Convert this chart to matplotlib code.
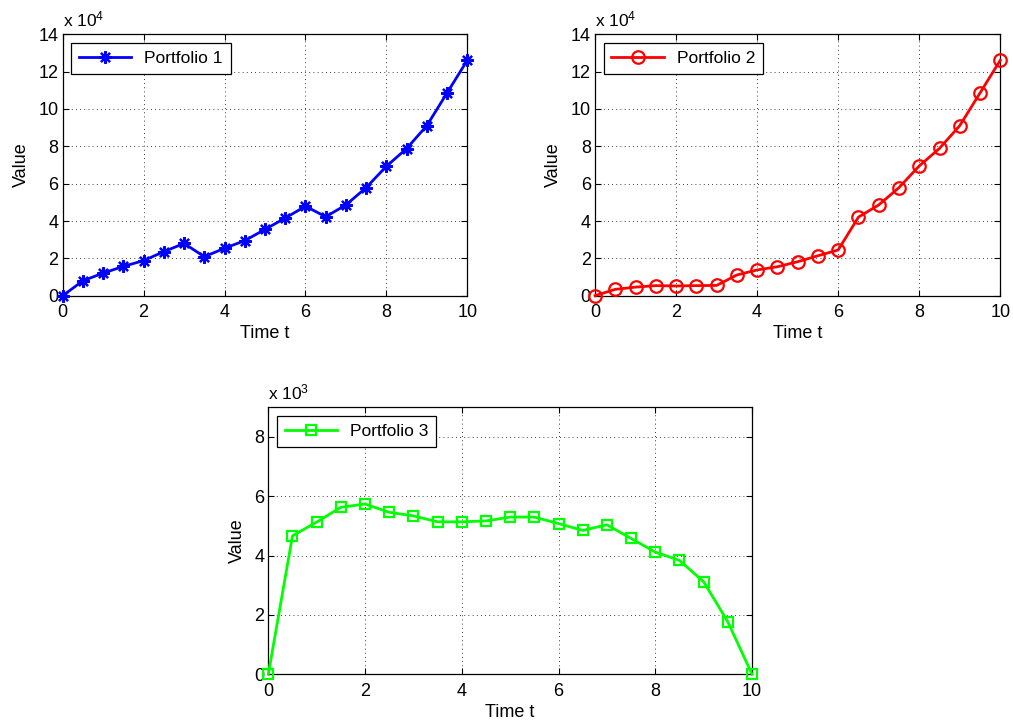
import numpy as np
import matplotlib
matplotlib.use('Agg')
import matplotlib.pyplot as plt

plt.rcParams['font.family'] = ['Liberation Sans', 'DejaVu Sans']
plt.rcParams['mathtext.fontset'] = 'custom'
plt.rcParams['mathtext.rm'] = 'Liberation Sans'
plt.rcParams['mathtext.it'] = 'Liberation Sans'

# %% data
t = [0, 0.5, 1, 1.5, 2, 2.5, 3, 3.5, 4, 4.5, 5, 5.5, 6, 6.5, 7, 7.5, 8, 8.5, 9, 9.5, 10]

portfolio1 = [0, 8000, 12100, 15700, 18800, 23600, 28000, 20900, 25400, 29500, 35500,
              41600, 47900, 42300, 48600, 57900, 69300, 78800, 91100, 108600, 126100]
portfolio2 = [0, 3400, 4600, 5400, 5200, 5400, 5500, 11100, 13800, 15500, 18200,
              21400, 24500, 42100, 48600, 57900, 69500, 78900, 91100, 108600, 126100]
portfolio3 = [0, 4670, 5130, 5630, 5740, 5460, 5340, 5140, 5140, 5170, 5300,
              5300, 5080, 4850, 5040, 4580, 4120, 3840, 3120, 1770, 0]

W, H = 1013, 725
FS = 13
fig = plt.figure(figsize=(W / 100, H / 100), dpi=100)


def px_axes(x0, x1, y0, y1):
    return fig.add_axes([x0 / W, 1 - y1 / H, (x1 - x0) / W, (y1 - y0) / H])


def style(ax, scale_exp, ymax, yticks):
    ax.set_xlim(0, 10)
    ax.set_ylim(0, ymax)
    ax.set_xticks([0, 2, 4, 6, 8, 10])
    ax.set_yticks(yticks)
    ax.tick_params(direction='in', top=True, right=True, length=4, width=0.8,
                   labelsize=FS)
    ax.tick_params(axis='x', pad=6)
    ax.tick_params(axis='y', pad=3)
    ax.grid(True, color='black', linestyle=(0, (1, 4)), linewidth=0.6)
    for s in ax.spines.values():
        s.set_linewidth(0.9)
    ax.set_xlabel('Time t', fontsize=FS, labelpad=3)
    ax.set_ylabel('Value', fontsize=FS, labelpad=6)
    ax.text(0.0, 1.02, r'x 10$^{%d}$' % scale_exp, transform=ax.transAxes,
            fontsize=FS - 0.5, ha='left', va='bottom')
    leg = ax.legend(loc='upper left', fontsize=FS - 0.5, fancybox=False, framealpha=1,
                    borderpad=0.45, handlelength=3.0, handletextpad=0.75,
                    borderaxespad=0.5)
    leg.get_frame().set_edgecolor('black')
    leg.get_frame().set_linewidth(0.9)


# %% portfolio 1
ax1 = px_axes(62.7, 467.3, 34.3, 295.7)
ax1.plot(t, np.array(portfolio1) / 1e4, color='blue', linewidth=2, marker=(8, 2, 0),
         markersize=9, markeredgewidth=1.6, label='Portfolio 1', clip_on=False, zorder=3)
style(ax1, 4, 14, range(0, 15, 2))

# %% portfolio 2
ax2 = px_axes(595, 1000.3, 34.3, 295.7)
ax2.plot(t, np.array(portfolio2) / 1e4, color='red', linewidth=2, marker='o',
         markersize=9, markerfacecolor='none', markeredgewidth=1.6, label='Portfolio 2',
         clip_on=False, zorder=3)
style(ax2, 4, 14, range(0, 15, 2))

# %% portfolio 3
ax3 = px_axes(268.3, 752, 407.3, 674.3)
ax3.plot(t, np.array(portfolio3) / 1e3, color='#00ff00', linewidth=2, marker='s',
         markersize=7.5, markerfacecolor='none', markeredgewidth=1.6, label='Portfolio 3',
         clip_on=False, zorder=3)
style(ax3, 3, 9, range(0, 9, 2))

fig.savefig('out.png', dpi=100)
